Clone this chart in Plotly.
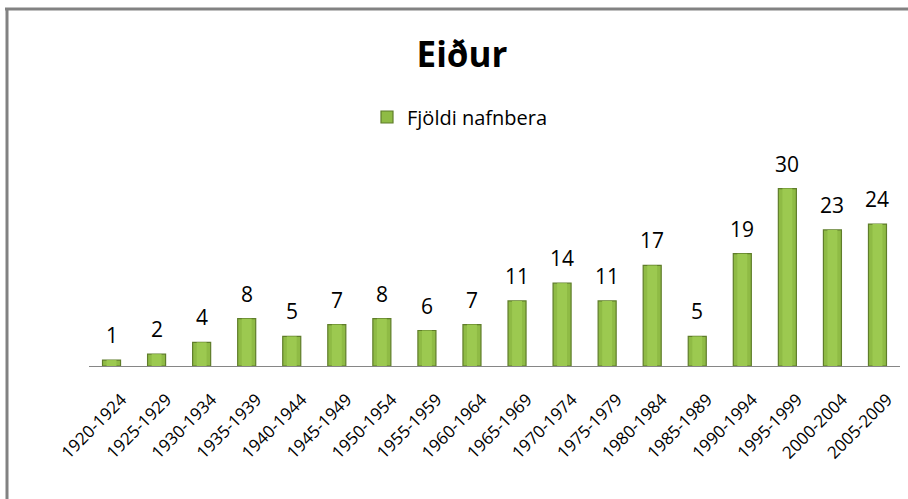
import plotly.graph_objects as go

categories = ["1920-1924", "1925-1929", "1930-1934", "1935-1939", "1940-1944",
              "1945-1949", "1950-1954", "1955-1959", "1960-1964", "1965-1969",
              "1970-1974", "1975-1979", "1980-1984", "1985-1989", "1990-1994",
              "1995-1999", "2000-2004", "2005-2009"]
values = [1, 2, 4, 8, 5, 7, 8, 6, 7, 11, 14, 11, 17, 5, 19, 30, 23, 24]
series_name = "Fjöldi nafnbera"
title_text = "Eiður"

W, H = 908, 499
ml, mr, mt, mb = 89, 8, 159, 133
pw = W - ml - mr
ph = H - mt - mb

def px_x(p):
    return (p - ml) / pw

def px_y(p):
    return (H - mb - p) / ph

FONT = "Open Sans"

fig = go.Figure()
fig.add_trace(go.Bar(
    x=categories, y=values, name=series_name,
    marker=dict(color="#8fbb45", line=dict(color="#5f7d2a", width=1.2)),
))
# lighter highlight in the middle of each bar
fig.add_trace(go.Bar(
    x=categories, y=values, name=series_name, showlegend=False,
    width=0.22, marker=dict(color="#9cc950", line=dict(width=0)),
    hoverinfo="skip",
))

for c, v in zip(categories, values):
    fig.add_annotation(x=c, y=v, text=str(v), showarrow=False,
                       yanchor="bottom", yshift=9,
                       font=dict(family=FONT, size=21, color="#000000"))

fig.update_layout(
    width=W, height=H,
    margin=dict(l=ml, r=mr, t=mt, b=mb),
    paper_bgcolor="white", plot_bgcolor="white",
    barmode="overlay", bargap=0.6,
    title=dict(text="<b>" + title_text + "</b>", x=462 / W, xref="container", xanchor="center",
               y=1 - 55 / H, yref="container", yanchor="middle",
               font=dict(family=FONT, size=35, color="#000000")),
    legend=dict(orientation="h", x=px_x(460), xanchor="center",
                y=px_y(117), yanchor="middle",
                font=dict(family=FONT, size=20, color="#000000"),
                bgcolor="rgba(0,0,0,0)"),
    showlegend=True,
    xaxis=dict(tickangle=-45, tickfont=dict(family=FONT, size=17, color="#000000"),
               showline=True, linecolor="#868686", linewidth=1,
               ticks="", showgrid=False, range=[-0.5, len(categories) - 0.5],
               ticklabelstandoff=16, ticklabelshift=10),
    yaxis=dict(range=[0, 35], visible=False, showgrid=False, zeroline=False),
    shapes=[
        dict(type="line", xref="paper", yref="paper",
             x0=px_x(5), x1=px_x(W + 2), y0=px_y(9), y1=px_y(9),
             line=dict(color="#828282", width=3)),
        dict(type="line", xref="paper", yref="paper",
             x0=px_x(7), x1=px_x(7), y0=px_y(8), y1=px_y(H + 2),
             line=dict(color="#828282", width=3)),
    ],
)

fig.write_html("out.html", config={"displayModeBar": False},
               post_script="document.body.style.margin='0';document.body.style.overflow='hidden';")
